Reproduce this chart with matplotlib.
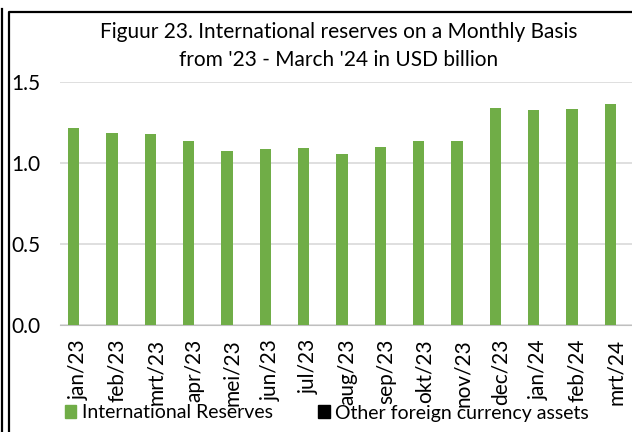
import matplotlib
matplotlib.use("Agg")
import matplotlib.pyplot as plt
from matplotlib.lines import Line2D
from matplotlib.patches import Patch
import numpy as np

months = ["jan/23", "feb/23", "mrt/23", "apr/23", "mei/23", "jun/23", "jul/23",
          "aug/23", "sep/23", "okt/23", "nov/23", "dec/23", "jan/24", "feb/24", "mrt/24"]
intl_reserves = [1.214, 1.183, 1.181, 1.134, 1.072, 1.086, 1.093,
                 1.057, 1.100, 1.136, 1.136, 1.341, 1.325, 1.331, 1.362]
other_fx = [0.003] * 15

green = "#70AD47"
plt.rcParams["font.family"] = ["Lato", "DejaVu Sans"]

W, H = 632, 432
fig = plt.figure(figsize=(W / 100, H / 100), dpi=100)
ax = fig.add_axes([60 / W, 1 - 325 / H, 575 / W, (325 - 82) / H])

x = np.arange(len(months))
bw = 0.287
ax.bar(x - bw / 2, intl_reserves, width=bw, color=green, zorder=3)
ax.bar(x + bw / 2, other_fx, width=bw, color="black", zorder=3)

ax.set_xlim(-0.5, len(months) - 0.5)
ax.set_ylim(0, 1.5)
ax.set_yticks([0, 0.5, 1.0, 1.5])
ax.set_yticklabels(["0.0", "0.5", "1.0", "1.5"], fontsize=15)
ax.set_xticks(x)
ax.set_xticklabels(months, rotation=90, fontsize=15)
ax.tick_params(axis="x", length=0, pad=10)
ax.tick_params(axis="y", length=0, pad=14)
ax.grid(axis="y", color="#d9d9d9", linewidth=1.2, zorder=0)
for s in ["top", "right", "left"]:
    ax.spines[s].set_visible(False)
ax.spines["bottom"].set_color("#bfbfbf")

fig.text(339 / W, 1 - 32 / H, "Figuur 23. International reserves on a Monthly Basis",
         ha="center", va="center", fontsize=15)
fig.text(339 / W, 1 - 60 / H, "from '23 - March '24 in USD billion",
         ha="center", va="center", fontsize=15)

handles = [Patch(color=green, label="International Reserves"),
           Patch(color="black", label="Other foreign currency assets")]
fig.legend(handles=handles, loc="center", bbox_to_anchor=(327 / W, 1 - 413 / H),
           ncol=2, frameon=False, fontsize=14, handlelength=0.6, handleheight=0.6,
           handletextpad=0.3, columnspacing=2.3, borderpad=0)

# chart borders
fig.add_artist(Line2D([1.5 / W, 1.5 / W], [0, 1 - 9 / H], color="black", lw=1.6,
                      transform=fig.transFigure))
fig.add_artist(Line2D([8.5 / W, 8.5 / W, 1], [0, 1 - 12 / H, 1 - 12 / H], color="black",
                      lw=1.6, transform=fig.transFigure))

fig.savefig("out.png", dpi=100)
